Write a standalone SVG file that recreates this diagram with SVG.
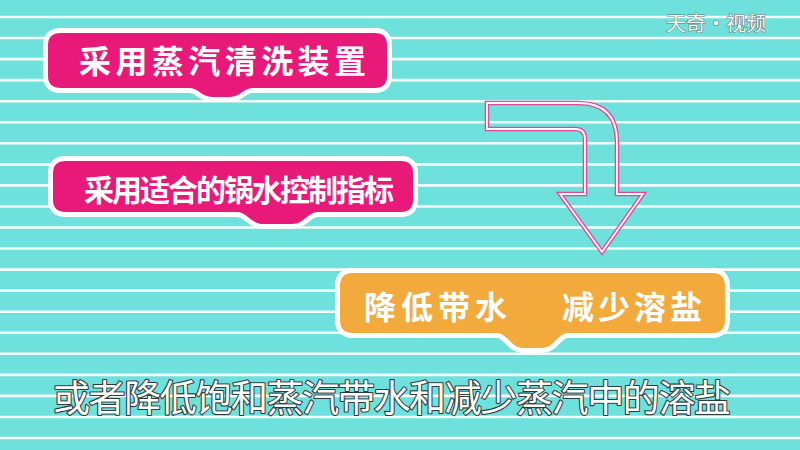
<svg xmlns="http://www.w3.org/2000/svg" width="800" height="450" viewBox="0 0 800 450">
<defs>
<style>
.stripe{stroke:#ffffff;stroke-width:2.6;opacity:0.92}
.box{stroke:#ffffff;stroke-width:10;stroke-linejoin:round;paint-order:stroke}
.pink{fill:#e9197a}
.orange{fill:#f2aa3d}
.lbl{font-family:"Noto Sans CJK SC","Noto Sans",sans-serif;font-weight:bold;fill:#ffffff}
.cap{font-family:"Noto Sans CJK SC","Noto Sans",sans-serif;font-size:37px;fill:#ffffff;stroke:#2b3b3d;stroke-width:2.2;stroke-linejoin:round;paint-order:stroke}
.wm{font-family:"Noto Sans CJK SC","Noto Sans",sans-serif;font-size:20px;fill:#f4f8f8;stroke:#5d6e70;stroke-width:1;paint-order:stroke}
</style>
</defs>
<rect x="0" y="0" width="800" height="450" fill="#6fe1dd"/>
<g id="background">
<line class="stripe" x1="0" x2="800" y1="17" y2="17"/>
<line class="stripe" x1="0" x2="800" y1="38.05" y2="38.05"/>
<line class="stripe" x1="0" x2="800" y1="59.1" y2="59.1"/>
<line class="stripe" x1="0" x2="800" y1="80.15" y2="80.15"/>
<line class="stripe" x1="0" x2="800" y1="101.2" y2="101.2"/>
<line class="stripe" x1="0" x2="800" y1="122.25" y2="122.25"/>
<line class="stripe" x1="0" x2="800" y1="143.3" y2="143.3"/>
<line class="stripe" x1="0" x2="800" y1="164.35" y2="164.35"/>
<line class="stripe" x1="0" x2="800" y1="185.4" y2="185.4"/>
<line class="stripe" x1="0" x2="800" y1="206.45" y2="206.45"/>
<line class="stripe" x1="0" x2="800" y1="227.5" y2="227.5"/>
<line class="stripe" x1="0" x2="800" y1="248.55" y2="248.55"/>
<line class="stripe" x1="0" x2="800" y1="269.6" y2="269.6"/>
<line class="stripe" x1="0" x2="800" y1="290.65" y2="290.65"/>
<line class="stripe" x1="0" x2="800" y1="311.7" y2="311.7"/>
<line class="stripe" x1="0" x2="800" y1="332.75" y2="332.75"/>
<line class="stripe" x1="0" x2="800" y1="353.8" y2="353.8"/>
<line class="stripe" x1="0" x2="800" y1="374.85" y2="374.85"/>
<line class="stripe" x1="0" x2="800" y1="395.9" y2="395.9"/>
<line class="stripe" x1="0" x2="800" y1="416.95" y2="416.95"/>
<line class="stripe" x1="0" x2="800" y1="438" y2="438"/>
</g>
<g id="watermark">
<text class="wm" x="666" y="31">天奇·视频</text>
</g>
<g id="node-steam-wash">
<path class="box pink" d="M61,33 H375 Q387,33 387,45 V76 Q387,88 375,88 H252 C244,88 240,97 230,97 H212 C202,97 198,88 190,88 H61 Q48,88 48,76 V45 Q48,33 61,33 Z"/>
<text class="lbl" x="79" y="73" font-size="32" textLength="287" lengthAdjust="spacing">采用蒸汽清洗装置</text>
</g>
<g id="node-water-index">
<path class="box pink" d="M66,161 H401 Q413,161 413,173 V200 Q413,212 401,212 H318 C308,212 304,224 292,224 H263 C251,224 247,212 237,212 H66 Q53,212 53,200 V173 Q53,161 66,161 Z"/>
<text class="lbl" x="84" y="201" font-size="30" textLength="310" lengthAdjust="spacing">采用适合的锅水控制指标</text>
</g>
<g id="node-reduce">
<path class="box orange" d="M353,273 H712 Q725,273 725,286 V320 Q725,333 712,333 H568 C558,333 554,348 542,348 H523 C511,348 507,333 497,333 H353 Q340,333 340,320 V286 Q340,273 353,273 Z"/>
<text class="lbl" x="364" y="319" font-size="32" textLength="143" lengthAdjust="spacing">降低带水</text>
<text class="lbl" x="562" y="319" font-size="32" textLength="140" lengthAdjust="spacing">减少溶盐</text>
</g>
<g id="connectors">
<path d="M487,103 H578 Q617,103 617,142 V194 H643 L602,252 L560,194 H585 V139 Q585,129 575,129 H487 Z" fill="none" stroke="#e2479a" stroke-width="4.5" stroke-linejoin="miter"/>
<path d="M487,103 H578 Q617,103 617,142 V194 H643 L602,252 L560,194 H585 V139 Q585,129 575,129 H487 Z" fill="none" stroke="#ffffff" stroke-width="1.8" stroke-linejoin="miter"/>
</g>
<g id="caption">
<text class="cap" x="53" y="412" textLength="678" lengthAdjust="spacing">或者降低饱和蒸汽带水和减少蒸汽中的溶盐</text>
</g>
</svg>
